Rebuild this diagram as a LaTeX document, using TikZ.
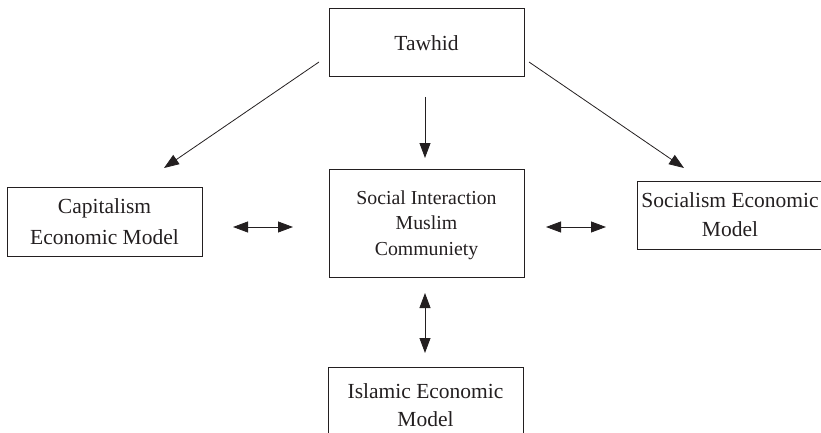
\documentclass[tikz,border=0pt]{standalone}
\usepackage{fontspec}
\setmainfont{Liberation Serif}
\usetikzlibrary{arrows.meta}
\definecolor{ink}{HTML}{231F20}
\begin{document}
\begin{tikzpicture}[x=1pt,y=-1pt,
  box/.style={draw=ink, text=ink, line width=1pt, inner sep=0pt, align=center},
  bigtext/.style={font=\rmfamily\fontsize{21.5pt}{#1}\selectfont},
  arr/.style={draw=ink, line width=0.8pt, -{Triangle[length=15pt,width=11pt]}},
  darr/.style={draw=ink, line width=0.8pt, {Triangle[length=15pt,width=11pt]}-{Triangle[length=15pt,width=11pt]}}]
\useasboundingbox (0,0) rectangle (821,433);
\clip (0,0) rectangle (821,433);

\node[box, bigtext=24pt, minimum width=195pt, minimum height=68pt] (tawhid) at (426.5,43) {Tawhid};
\node[box, bigtext=31pt, minimum width=195pt, minimum height=69pt] (cap) at (104.5,221.5) {Capitalism\\Economic Model};
\node[box, font=\rmfamily\fontsize{19.8pt}{25.5pt}\selectfont, minimum width=195pt, minimum height=108pt, text depth=0pt] (soc) at (426.5,223) {Social Interaction\\Muslim\\Communiety};
\node[box, bigtext=29pt, minimum width=186pt, minimum height=68pt] (socm) at (730,215) {Socialism Economic\\Model};
\node[box, bigtext=28pt, minimum width=195pt, minimum height=76pt, text depth=0pt] (isl) at (425.5,405) {Islamic Economic\\Model};

\coordinate (t1) at (425,97);  \coordinate (t2) at (425,158);
\coordinate (l1) at (319,62);  \coordinate (l2) at (164,168);
\coordinate (r1) at (529,62);  \coordinate (r2) at (684,168);
\coordinate (h1) at (233,227); \coordinate (h2) at (293,227);
\coordinate (k1) at (546,227); \coordinate (k2) at (606,227);
\coordinate (v1) at (425,293); \coordinate (v2) at (425,353);

\draw[arr] (t1) -- (t2);
\draw[arr] (l1) -- (l2);
\draw[arr] (r1) -- (r2);
\draw[darr] (h1) -- (h2);
\draw[darr] (k1) -- (k2);
\draw[darr] (v1) -- (v2);
\end{tikzpicture}
\end{document}
